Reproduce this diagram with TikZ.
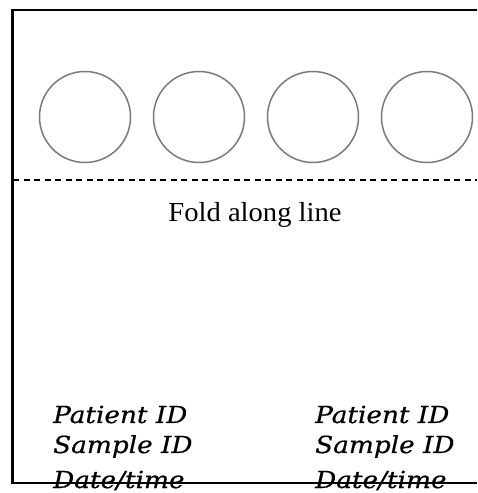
\documentclass[tikz,border=0pt]{standalone}
\usepackage{fontspec}
\setmainfont{Liberation Serif}
\newfontfamily\foldfont[FakeStretch=1.04]{Liberation Serif}
\newfontfamily\handfont[FakeStretch=1.12,FakeBold=0.6]{DejaVu Serif}
\begin{document}
\begin{tikzpicture}[x=1pt,y=1pt,
  border/.style={line width=2.2pt,draw=black},
  well/.style={circle,draw=black!52,line width=1.5pt,minimum size=91pt,inner sep=0pt},
  foldline/.style={line width=1.3pt,dash pattern=on 6pt off 4.5pt},
  hand/.style={anchor=base west,inner sep=0pt,font=\handfont\itshape\fontsize{23.5}{28}\selectfont},
  foldtext/.style={inner sep=0pt,anchor=base,font=\foldfont\fontsize{27.5}{32}\selectfont}]
\useasboundingbox (0,0) rectangle (477,493);
\coordinate (tl) at (12.5,483);
\coordinate (tr) at (477,483);
\coordinate (bl) at (12.5,10);
\coordinate (br) at (477,10);
\draw[border] (tr) -- (tl) -- (bl) -- (br);
\node[well] (w1) at (85,376) {};
\node[well] (w2) at (199,376) {};
\node[well] (w3) at (313,376) {};
\node[well] (w4) at (427,376) {};
\coordinate (fl) at (13,313);
\coordinate (fr) at (477,313);
\draw[foldline] (fl) -- (fr);
\node[foldtext] (fold) at (255,271) {Fold along line};
\node[hand] (p1) at (53,70) {Patient ID};
\node[hand] (s1) at (53,40) {Sample ID};
\node[hand] (d1) at (53,5) {Date/time};
\node[hand] (p2) at (315,70) {Patient ID};
\node[hand] (s2) at (315,40) {Sample ID};
\node[hand] (d2) at (315,5) {Date/time};
\end{tikzpicture}
\end{document}
